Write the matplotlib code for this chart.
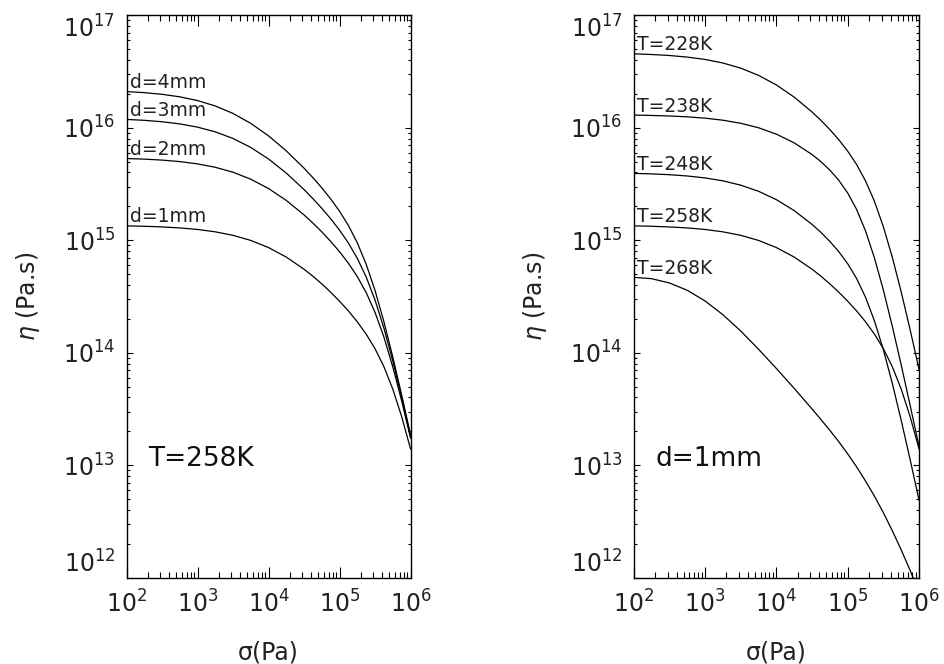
import numpy as np
import matplotlib
matplotlib.use("Agg")
import matplotlib.pyplot as plt

# Applied stress (Pa)
sigma = [1.0e2, 1.778e2, 3.162e2, 5.623e2, 1.0e3, 1.778e3, 3.162e3, 5.623e3,
         1.0e4, 1.778e4, 3.162e4, 4.217e4, 5.623e4, 7.499e4, 1.0e5, 1.334e5,
         1.778e5, 2.371e5, 3.162e5, 4.217e5, 5.623e5, 7.499e5, 1.0e6]

# Effective viscosity (Pa.s) at T = 258 K for several grain sizes
eta_d1 = [1.341e15, 1.330e15, 1.312e15, 1.286e15, 1.246e15, 1.187e15, 1.105e15, 9.955e14,
          8.605e14, 7.082e14, 5.526e14, 4.787e14, 4.091e14, 3.451e14, 2.870e14, 2.351e14,
          1.884e14, 1.465e14, 1.087e14, 7.529e13, 4.759e13, 2.711e13, 1.400e13]
eta_d2 = [5.323e15, 5.256e15, 5.153e15, 4.998e15, 4.770e15, 4.449e15, 4.020e15, 3.487e15,
          2.881e15, 2.258e15, 1.680e15, 1.421e15, 1.187e15, 9.770e14, 7.908e14, 6.246e14,
          4.758e14, 3.430e14, 2.286e14, 1.380e14, 7.520e13, 3.742e13, 1.743e13]
eta_d3 = [1.185e16, 1.163e16, 1.130e16, 1.081e16, 1.012e16, 9.191e15, 8.023e15, 6.677e15,
          5.273e15, 3.953e15, 2.822e15, 2.344e15, 1.922e15, 1.553e15, 1.230e15, 9.442e14,
          6.917e14, 4.726e14, 2.946e14, 1.657e14, 8.470e13, 4.020e13, 1.816e13]
eta_d4 = [2.094e16, 2.049e16, 1.981e16, 1.881e16, 1.743e16, 1.561e16, 1.339e16, 1.093e16,
          8.465e15, 6.229e15, 4.372e15, 3.599e15, 2.923e15, 2.331e15, 1.812e15, 1.353e15,
          9.500e14, 6.133e14, 3.582e14, 1.891e14, 9.198e13, 4.215e13, 1.865e13]
grain_labels = ["d=1mm", "d=2mm", "d=3mm", "d=4mm"]

# Effective viscosity (Pa.s) at d = 1 mm for several temperatures
eta_t228 = [4.534e16, 4.474e16, 4.383e16, 4.244e16, 4.043e16, 3.760e16, 3.384e16, 2.921e16,
            2.400e16, 1.870e16, 1.380e16, 1.162e16, 9.625e15, 7.823e15, 6.190e15, 4.707e15,
            3.370e15, 2.219e15, 1.320e15, 7.080e14, 3.480e14, 1.607e14, 7.132e13]
eta_t238 = [1.295e16, 1.285e16, 1.271e16, 1.249e16, 1.216e16, 1.166e16, 1.095e16, 9.991e15,
            8.768e15, 7.332e15, 5.779e15, 4.991e15, 4.200e15, 3.411e15, 2.629e15, 1.877e15,
            1.211e15, 6.969e14, 3.611e14, 1.724e14, 7.805e13, 3.422e13, 1.473e13]
eta_t248 = [3.927e15, 3.885e15, 3.821e15, 3.723e15, 3.578e15, 3.371e15, 3.086e15, 2.722e15,
            2.293e15, 1.833e15, 1.383e15, 1.173e15, 9.757e14, 7.909e14, 6.177e14, 4.565e14,
            3.114e14, 1.921e14, 1.065e14, 5.359e13, 2.515e13, 1.126e13, 4.910e12]
eta_t258 = [1.341e15, 1.330e15, 1.312e15, 1.286e15, 1.246e15, 1.187e15, 1.105e15, 9.955e14,
            8.605e14, 7.082e14, 5.526e14, 4.787e14, 4.091e14, 3.451e14, 2.870e14, 2.351e14,
            1.884e14, 1.465e14, 1.087e14, 7.529e13, 4.759e13, 2.711e13, 1.400e13]
eta_t268 = [4.677e14, 4.550e14, 4.169e14, 3.589e14, 2.884e14, 2.178e14, 1.560e14, 1.074e14,
            7.244e13, 4.819e13, 3.162e13, 2.547e13, 2.042e13, 1.618e13, 1.262e13, 9.661e12,
            7.244e12, 5.309e12, 3.784e12, 2.624e12, 1.770e12, 1.164e12, 7.447e11]
temp_labels = ["T=228K", "T=238K", "T=248K", "T=258K", "T=268K"]

x_tick_exp = [2, 3, 4, 5, 6]
y_tick_exp = [12, 13, 14, 15, 16, 17]

plt.rcParams["font.family"] = ["DejaVu Sans"]
plt.rcParams["mathtext.fontset"] = "dejavusans"

W, H = 944, 664
fig = plt.figure(figsize=(W / 100, H / 100), dpi=100)
y0, y1 = 577.7, 15.2
ax_left = fig.add_axes([126.5 / W, 1 - y0 / H, (410.5 - 126.5) / W, (y0 - y1) / H])
ax_right = fig.add_axes([633.7 / W, 1 - y0 / H, (919.0 - 633.7) / W, (y0 - y1) / H])


def style_axes(ax):
    ax.set_xscale("log")
    ax.set_yscale("log")
    ax.set_xlim(10.0 ** x_tick_exp[0], 10.0 ** x_tick_exp[-1])
    ax.set_ylim(10.0 ** y_tick_exp[0], 10.0 ** y_tick_exp[-1])
    ax.set_xticks([10.0 ** e for e in x_tick_exp])
    ax.set_xticklabels([r"$\mathregular{10^{%d}}$" % e for e in x_tick_exp])
    ax.set_yticks([10.0 ** e for e in y_tick_exp])
    ax.set_yticklabels([r"$\mathregular{10^{%d}}$" % e for e in y_tick_exp])
    ax.xaxis.set_minor_locator(matplotlib.ticker.LogLocator(base=10, subs=np.arange(2, 10)))
    ax.yaxis.set_minor_locator(matplotlib.ticker.LogLocator(base=10, subs=np.arange(2, 10)))
    ax.xaxis.set_minor_formatter(matplotlib.ticker.NullFormatter())
    ax.yaxis.set_minor_formatter(matplotlib.ticker.NullFormatter())
    ax.tick_params(which="both", direction="in", top=True, right=True,
                   width=0.8, color="black", labelsize=17, labelcolor="#222222")
    ax.tick_params(axis="x", which="major", length=7.9, pad=9)
    ax.tick_params(axis="x", which="minor", length=4.0)
    ax.tick_params(axis="y", which="major", length=4.1, pad=8)
    ax.tick_params(axis="y", which="minor", length=2.0)
    for sp in ax.spines.values():
        sp.set_linewidth(1.0)
    ylabels = ax.get_yticklabels()
    ylabels[0].set_va("bottom")
    ylabels[-1].set_va("top")
    ax.set_xlabel("σ(Pa)", fontsize=17, color="#222222")
    ax.set_ylabel(r"$\eta$ (Pa.s)", fontsize=17, color="#222222")
    ax.xaxis.set_label_coords(0.5, -0.112)
    ax.xaxis.label.set_va("top")
    ax.yaxis.set_label_coords(-0.298, 0.5)


def draw_curves(ax, series, labels):
    for eta, lab in zip(series, labels):
        ax.plot(sigma, eta, color="black", lw=0.9)
        ax.annotate(lab, xy=(sigma[0], eta[0]), xytext=(2.5, 2.5),
                    textcoords="offset points", fontsize=13.5,
                    color="#222222", ha="left", va="baseline")


style_axes(ax_left)
style_axes(ax_right)

draw_curves(ax_left, [eta_d1, eta_d2, eta_d3, eta_d4], grain_labels)
draw_curves(ax_right, [eta_t228, eta_t238, eta_t248, eta_t258, eta_t268], temp_labels)

ax_left.text(0.076, 0.199, "T=258K", transform=ax_left.transAxes,
             fontsize=19, color="#111111", ha="left", va="baseline")
ax_right.text(0.078, 0.199, "d=1mm", transform=ax_right.transAxes,
              fontsize=19, color="#111111", ha="left", va="baseline")

fig.savefig("out.png", dpi=100)
